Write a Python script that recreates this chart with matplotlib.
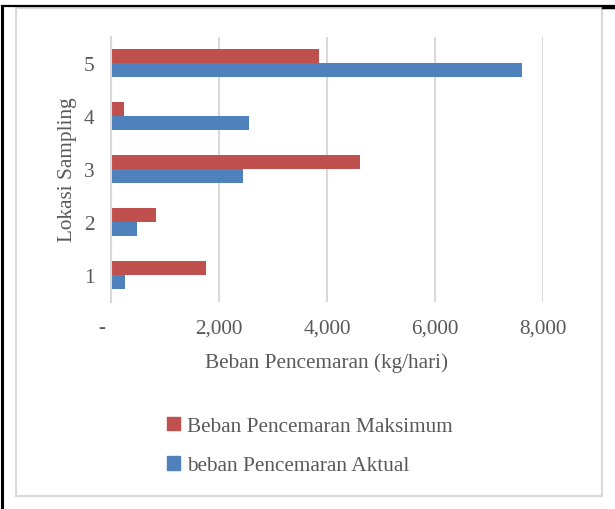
import matplotlib
matplotlib.use("Agg")
import matplotlib.pyplot as plt
from matplotlib.patches import Rectangle, Patch
from matplotlib.lines import Line2D
import numpy as np

plt.rcParams['font.family'] = ['Liberation Serif', 'DejaVu Serif']

categories = ["1", "2", "3", "4", "5"]
maksimum = [1760, 830, 4610, 240, 3850]
aktual = [260, 480, 2440, 2560, 7610]
xticks = [0, 2000, 4000, 6000, 8000]
xticklabels = ["-   ", "2,000", "4,000", "6,000", "8,000"]

RED = "#C0504D"
BLUE = "#4F81BD"
GRID = "#D9D9D9"
TXT = "#595959"
FS = 15.3

W, H = 615, 510
fig = plt.figure(figsize=(W / 100, H / 100), dpi=100)

# frame decorations
fig.add_artist(Line2D([2 / W, 2 / W], [0, 1 - 7 / H], color="black", lw=2.2))
fig.add_artist(Line2D([2 / W, 1], [1 - 7 / H, 1 - 7 / H], color="black", lw=1.6))
fig.add_artist(Line2D([603 / W, 1], [1 - 7.5 / H, 1 - 7.5 / H], color="black", lw=2.5))
fig.add_artist(Rectangle((16 / W, 1 - 497 / H), (602 - 16) / W, (497 - 9) / H,
                         transform=fig.transFigure, fill=False, ec=GRID, lw=1.5))

ax = fig.add_axes([111 / W, 1 - 302.5 / H, (543 - 111) / W, (302.5 - 37.5) / H])
y = np.arange(len(categories))
h = 0.264
ax.barh(y + h / 2, maksimum, height=h, color=RED, label="Beban Pencemaran Maksimum")
ax.barh(y - h / 2, aktual, height=h, color=BLUE, label="beban Pencemaran Aktual")

ax.set_xlim(0, 8000)
ax.set_ylim(-0.5, len(categories) - 0.5)
ax.set_xticks(xticks)
ax.set_xticklabels(xticklabels)
ax.set_yticks(y)
ax.set_yticklabels(categories)
ax.tick_params(length=0, labelsize=FS, colors=TXT)
ax.tick_params(axis="x", pad=12)
ax.tick_params(axis="y", pad=12)
ax.grid(axis="x", color=GRID, lw=1.5)
ax.set_axisbelow(True)
for s in ["top", "right", "bottom"]:
    ax.spines[s].set_visible(False)
ax.spines["left"].set_color(GRID)
ax.spines["left"].set_linewidth(1.5)
ax.set_xlabel("Beban Pencemaran (kg/hari)", fontsize=FS, color=TXT, labelpad=11)
ax.set_ylabel("Lokasi Sampling", fontsize=FS, color=TXT, labelpad=5)

handles = [Patch(color=RED), Patch(color=BLUE)]
labels = ["Beban Pencemaran Maksimum", "beban Pencemaran Aktual"]
fig.legend(handles, labels, loc="upper left", bbox_to_anchor=(148 / W, 1 - 398.5 / H),
           frameon=False, fontsize=FS, labelcolor=TXT, handlelength=0.6,
           handleheight=0.6, handletextpad=0.35, labelspacing=0.95)

fig.savefig("out.png", dpi=100)
